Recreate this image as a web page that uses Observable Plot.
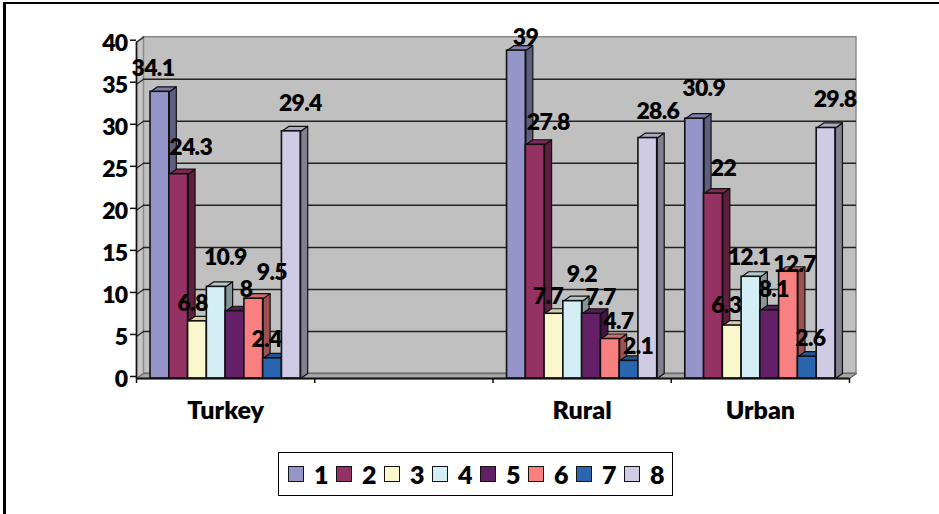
<!DOCTYPE html>
<html><head><meta charset="utf-8">
<script src="https://cdn.jsdelivr.net/npm/d3@7"></script>
<script src="https://cdn.jsdelivr.net/npm/@observablehq/plot@0.6"></script>
<style>
html,body{margin:0;padding:0;background:#fff;overflow:hidden}
#wrap{position:relative;width:939px;height:514px;font-family:Lato,sans-serif;font-weight:700;color:#000}
#frame{position:absolute;left:3px;top:2px;width:936px;height:520px;border-left:3px solid #000;border-top:2px solid #000;box-sizing:border-box}
#chart{position:absolute;left:0;top:0}
#chart text.num, #chart .num text{letter-spacing:-.7px}
#legend{position:absolute;left:278px;top:452px;width:395px;height:44px;border:1.5px solid #000;box-sizing:border-box;display:flex;align-items:center;padding-left:9px;font-size:25px;font-weight:800}
#legend .it{display:flex;align-items:center;width:48.6px}
#legend .sw{width:16px;height:16px;border:1.5px solid #111;box-sizing:border-box;margin-right:10px}
</style></head><body>
<div id="wrap"><div id="frame"></div><div id="chart"></div><div id="legend"></div></div>
<script>
const categories = ["Turkey", "", "Rural", "Urban"];
const seriesNames = ["1","2","3","4","5","6","7","8"];
const turkey = [34.1, 24.3, 6.8, 10.9, 8, 9.5, 2.4, 29.4];
const rural  = [39, 27.8, 7.7, 9.2, 7.7, 4.7, 2.1, 28.6];
const urban  = [30.9, 22, 6.3, 12.1, 8.1, 12.7, 2.6, 29.8];
const yTicks = [0,5,10,15,20,25,30,35,40];
const colors = ["#9595c9","#953264","#fbf7cc","#d3eef4","#642066","#f98080","#2a66b0","#cfcbe4"];
// hand placement of each value label, in pixels, relative to its bar's centre and top
const labelNudgeTurkey = [[-7,-23],[12,-27],[-5,-18],[9,-29],[11,-22],[18,-26],[-6,-19],[9,-28]];
const labelNudgeRural  = [[9,-13],[13,-22],[-6,-17],[9,-27],[9,-16],[8,-17],[9,-14],[10,-26]];
const labelNudgeUrban  = [[9,-30],[10,-25],[-6,-20],[-2,-19],[4,-21],[6,-7],[3,-18],[9,-28]];

const W = 939, H = 514;
const plotLeft = 136, plotRight = 849, plotTop = 41.7, plotBottom = 378;
const depthPx = 7, risePx = 5;
const pxPerBand = (plotRight-plotLeft)/4, pxPerUnit = (plotBottom-plotTop)/40;
const depthX = depthPx/pxPerBand, riseY = risePx/pxPerUnit;
const barW = 0.1053, gap = (1-8*barW)/2;

const groups = [[0,turkey,labelNudgeTurkey],[2,rural,labelNudgeRural],[3,urban,labelNudgeUrban]];
const bars = groups.flatMap(([g,vals,nudge]) => vals.map((v,i)=>({
  g, i, v, x1:g+gap+i*barW, x2:g+gap+(i+1)*barW, color:colors[i], nudge:nudge[i]})));
const poly = (pts,extra) => pts.map(([x,y],k)=>({x,y,k,...extra}));
const sides = bars.flatMap((b,n)=>poly([[b.x2,0],[b.x2+depthX,riseY],[b.x2+depthX,b.v+riseY],[b.x2,b.v],[b.x2,0]],{id:n,color:d3.color(b.color).darker(1.3).formatHex()}));
const tops = bars.flatMap((b,n)=>poly([[b.x1,b.v],[b.x1+depthX,b.v+riseY],[b.x2+depthX,b.v+riseY],[b.x2,b.v],[b.x1,b.v]],{id:n,color:d3.color(b.color).darker(0.5).formatHex()}));
const leftWall = poly([[0,0],[depthX,riseY],[depthX,40+riseY],[0,40],[0,0]],{id:"w"});
const floor = poly([[0,0],[depthX,riseY],[4+depthX,riseY],[4,0],[0,0]],{id:"f"});
const gridSlant = yTicks.slice(1).flatMap(v=>poly([[0,v],[depthX,v+riseY]],{id:v}));
const wallLines = yTicks.slice(1,-1).map(v=>({v:v+riseY}));
const catLabels = categories.map((c,i)=>({c,x:i+0.5})).filter(d=>d.c);
const xTickPos = [0,1,2,3,4];
const tickX = 5/pxPerUnit, tickLen = 6/pxPerBand;

const plot = Plot.plot({
  width:W, height:H, marginLeft:0, marginRight:0, marginTop:0, marginBottom:0,
  style:{background:"transparent",fontFamily:"Lato,sans-serif",fontWeight:700,overflow:"visible"},
  x:{type:"linear",domain:[0,4],range:[plotLeft,plotRight],axis:null},
  y:{type:"linear",domain:[0,40],range:[plotBottom,plotTop],axis:null},
  marks:[
    Plot.rect([{}],{x1:depthX,x2:4+depthX,y1:riseY,y2:40+riseY,fill:"#c0c0c0",stroke:"#8a8a8a",strokeWidth:1.5}),
    Plot.line(leftWall,{x:"x",y:"y",fill:"#c6c6c6",stroke:"#8a8a8a",strokeWidth:1.5}),
    Plot.line(floor,{x:"x",y:"y",fill:"#a8a8a8",stroke:"#707070",strokeWidth:1.5}),
    Plot.line(gridSlant,{x:"x",y:"y",z:"id",stroke:"#222",strokeWidth:1.2}),
    Plot.ruleY(wallLines,{y:"v",x1:depthX,x2:4+depthX,stroke:"#222",strokeWidth:1.5}),
    Plot.line(sides,{x:"x",y:"y",z:"id",fill:"color",stroke:"#111",strokeWidth:1.2}),
    Plot.line(tops,{x:"x",y:"y",z:"id",fill:"color",stroke:"#111",strokeWidth:1.2}),
    Plot.rect(bars,{x1:"x1",x2:"x2",y1:0,y2:"v",fill:"color",stroke:"#111",strokeWidth:1.6}),
    Plot.ruleX([0],{y1:0,y2:40,stroke:"#111",strokeWidth:1.6}),
    Plot.ruleY([0],{x1:0,x2:4,stroke:"#111",strokeWidth:2}),
    Plot.ruleX(xTickPos,{x:d=>d,y1:0,y2:-tickX,stroke:"#111",strokeWidth:1.5}),
    Plot.ruleY(yTicks,{y:d=>d,x1:-tickLen,x2:0,dy:-2,stroke:"#111",strokeWidth:1.5}),
    Plot.text(yTicks,{x:0,y:d=>d,text:d=>String(d),textAnchor:"end",dx:-9,dy:1,fontSize:23,fontWeight:800,fill:"#000",className:"num"}),
    Plot.text(catLabels,{x:"x",y:0,text:"c",dy:32,fontSize:25,fontWeight:800,fill:"#000"}),
    Plot.text(bars,{
      x:d=>(d.x1+d.x2)/2+d.nudge[0]/pxPerBand,
      y:d=>d.v-d.nudge[1]/pxPerUnit,
      text:d=>String(d.v),fontSize:23,fontWeight:800,fill:"#000",className:"num"})
  ]
});
document.getElementById("chart").appendChild(plot);
const legend=document.getElementById("legend");
seriesNames.forEach((s,i)=>{
  const it=document.createElement("div");it.className="it";
  it.innerHTML=`<span class="sw" style="background:${colors[i]}"></span><span>${s}</span>`;
  legend.appendChild(it);
});
</script></body></html>
